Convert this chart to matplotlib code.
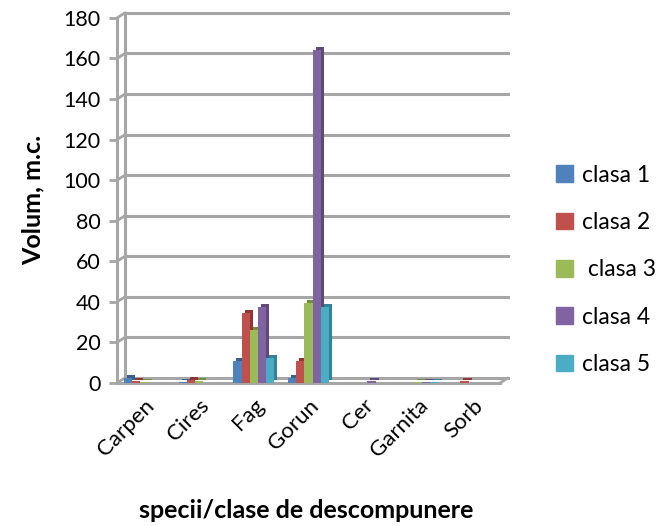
import numpy as np
import matplotlib.pyplot as plt
import matplotlib.transforms as mtransforms
from matplotlib.patches import Patch

plt.rcParams['font.family'] = ['Lato', 'DejaVu Sans']

species = ["Carpen", "Cires", "Fag", "Gorun", "Cer", "Garnita", "Sorb"]
series_names = ["clasa 1", "clasa 2", " clasa 3", "clasa 4", "clasa 5"]
clasa1 = [2.5, 0.5, 11.0, 2.5, 0.0, 0.0, 0.0]
clasa2 = [1.0, 1.5, 34.5, 11.0, 0.0, 0.0, 1.0]
clasa3 = [0.5, 1.0, 26.0, 39.5, 0.0, 0.5, 0.0]
clasa4 = [0.0, 0.0, 37.5, 164.0, 0.8, 0.5, 0.0]
clasa5 = [0.0, 0.0, 12.5, 37.5, 0.0, 0.5, 0.0]
yticks = [0, 20, 40, 60, 80, 100, 120, 140, 160, 180]

colors = ["#4F81BD", "#C0504D", "#9BBB59", "#8064A2", "#4BACC6"]
sides = ["#38618f", "#913633", "#748e3d", "#5e4979", "#328399"]

fig = plt.figure(figsize=(6.65, 5.26), dpi=100)
ax = fig.add_axes([0.176, 0.272, 0.576, 0.694])
ax.set_xlim(-0.5, 6.5)
ax.set_ylim(0, 180)
for s in ax.spines.values():
    s.set_visible(False)

# back wall offset (pseudo 3D)
back = mtransforms.offset_copy(ax.transData, fig, x=8, y=5, units='dots')
grid_col = "#a6a6a6"
for yv in yticks:
    ax.plot([-0.5, 6.5], [yv, yv], color=grid_col, lw=2.2, transform=back,
            clip_on=False, zorder=1)
    ax.annotate("", xy=(-0.5, yv), xycoords=back, xytext=(-0.5, yv),
                textcoords='data',
                arrowprops=dict(arrowstyle='-', color=grid_col, lw=2,
                                shrinkA=0, shrinkB=0))
ax.plot([-0.5, -0.5], [0, 180], color=grid_col, lw=2.2, transform=back,
        clip_on=False, zorder=1)
ax.plot([-0.5, -0.5], [0, 180], color=grid_col, lw=2.2, clip_on=False, zorder=1)
ax.plot([-0.5, 6.5], [0, 0], color=grid_col, lw=2.2, clip_on=False, zorder=1)
ax.annotate("", xy=(6.5, 0), xycoords=back, xytext=(6.5, 0), textcoords='data',
            arrowprops=dict(arrowstyle='-', color=grid_col, lw=2,
                            shrinkA=0, shrinkB=0))

ax.tick_params(axis='y', length=6, width=2, color=grid_col, labelsize=15.5, pad=6)
ax.tick_params(axis='x', length=0, labelsize=16, pad=9)
ax.set_yticks(yticks)
x = np.arange(len(species))
ax.set_xticks(x)
ax.set_xticklabels(species, rotation=45, ha='right', rotation_mode='anchor')

bar_off = mtransforms.offset_copy(ax.transData, fig, x=3, y=3, units='dots')
data = [clasa1, clasa2, clasa3, clasa4, clasa5]
w = 0.15
z = 3
for ci in range(len(species)):
    for si, vals in enumerate(data):
        v = vals[ci]
        if v <= 0:
            continue
        xp = ci + (si - 2) * w
        ax.bar(xp, v, w, color=sides[si], transform=bar_off, zorder=z, clip_on=False)
        ax.bar(xp, v, w, color=colors[si], zorder=z + 1, clip_on=False)
        z += 2

ax.set_ylabel("Volum, m.c.", fontsize=18, fontweight='bold')
ax.yaxis.set_label_coords(-0.19, 0.5)
fig.text(0.46, 0.015, "specii/clase de descompunere", fontsize=18,
         fontweight='bold', ha='center')

handles = [Patch(color=c) for c in colors]
fig.legend(handles, series_names, loc='center left', bbox_to_anchor=(0.805, 0.487),
           frameon=False, fontsize=16.5, handlelength=0.75, handleheight=0.75,
           labelspacing=1.15, handletextpad=0.4)

fig.savefig("out.png", dpi=100)
